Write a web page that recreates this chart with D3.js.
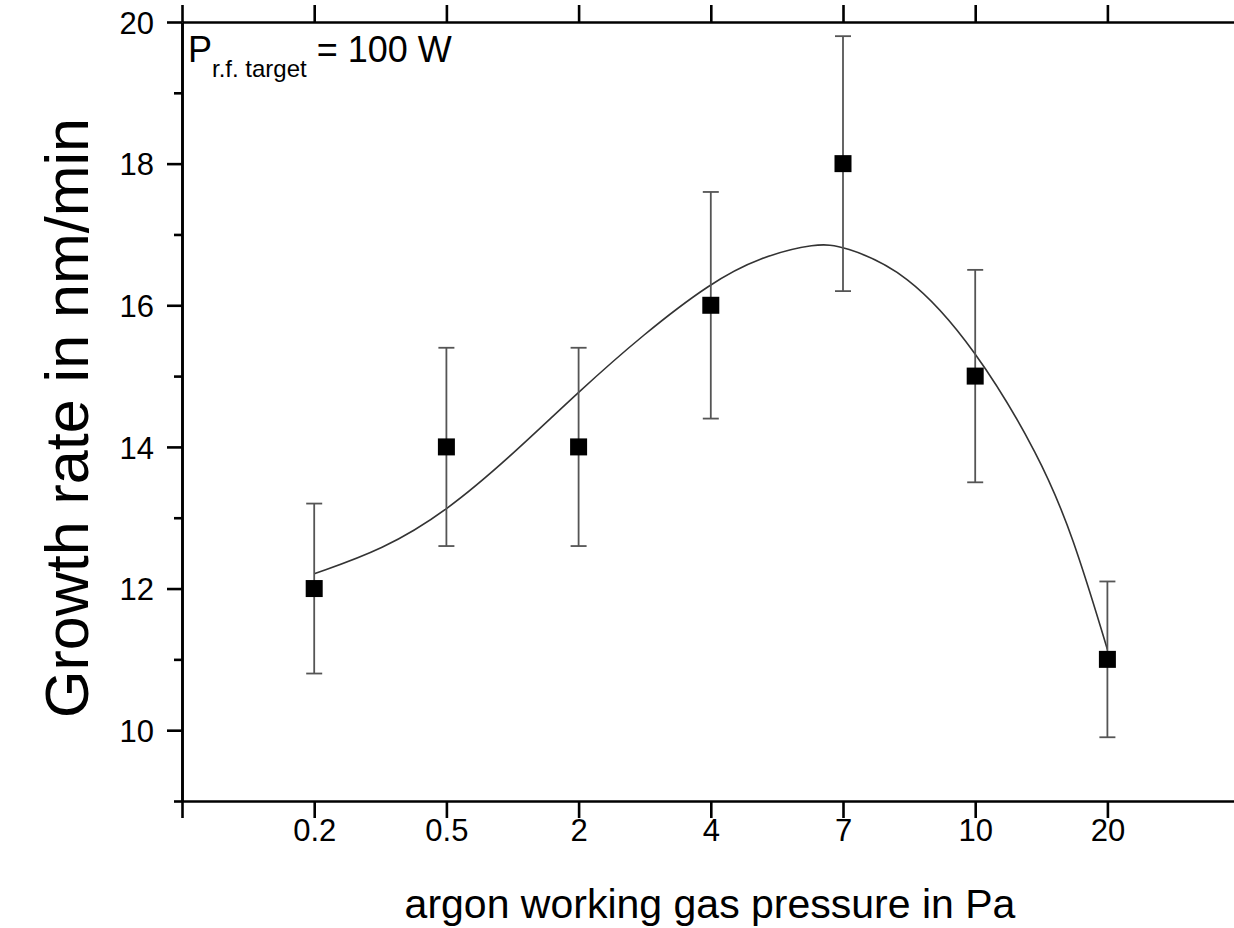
<!DOCTYPE html>
<html lang="en">
<meta charset="utf-8">
<head>
    <script src="https://d3js.org/d3.v7.min.js"></script>
    <style>
        body { margin: 0; background: #fff; }
        text { font-family: "Liberation Sans", Arial, sans-serif; fill: #000; }
    </style>
</head>
<body>
<script>
    // categories on the x axis (evenly spaced, index 1..7)
    var pressures = ["0.2", "0.5", "2", "4", "7", "10", "20"];
    // growth rate in nm/min and error (+/-)
    var rates = [12, 14, 14, 16, 18, 15, 11];
    var errors = [1.2, 1.4, 1.4, 1.6, 1.8, 1.5, 1.1];
    // fit curve: position (category index) and value
    var fitPos = [1.0, 1.52, 2.0, 2.5, 3.0, 3.49, 4.0, 4.37, 4.8, 5.0, 5.48, 6.0, 6.49, 6.74, 7.0];
    var fitVal = [12.21, 12.55, 13.09, 13.89, 14.78, 15.59, 16.32, 16.68, 16.88, 16.84, 16.48, 15.4, 13.86, 12.74, 11.14];
    var yMajor = [10, 12, 14, 16, 18, 20];
    var yMinor = [9, 11, 13, 15, 17, 19];

    var width = 1234, height = 928;

    var svg = d3.select("body")
        .append("svg")
        .attr("width", width)
        .attr("height", height);

    var x = d3.scaleLinear()
        .domain([0, 8])
        .range([182, 1239.6]);

    var y = d3.scaleLinear()
        .domain([9, 20])
        .range([801, 22]);

    var xTicks = d3.range(0, 8);

    // left axis, major ticks with labels
    var left = svg.append("g")
        .attr("transform", "translate(182,0)")
        .call(d3.axisLeft(y).tickValues(yMajor).tickSize(15).tickSizeOuter(0).tickPadding(13));
    // minor ticks
    svg.append("g")
        .attr("transform", "translate(182,0)")
        .call(d3.axisLeft(y).tickValues(yMinor).tickSize(8).tickSizeOuter(0).tickFormat(""));

    // top axis, ticks only
    svg.append("g")
        .attr("transform", "translate(0,22)")
        .call(d3.axisTop(x).tickValues(xTicks).tickSize(17).tickSizeOuter(0).tickFormat(""));

    // bottom axis
    svg.append("g")
        .attr("transform", "translate(0,801)")
        .call(d3.axisBottom(x).tickValues(xTicks).tickSize(17).tickSizeOuter(0).tickPadding(1)
            .tickFormat(function(d) { return d == 0 ? "" : pressures[d - 1]; }));

    svg.selectAll(".domain, .tick line")
        .attr("stroke", "#000")
        .attr("stroke-width", 2.6);
    svg.selectAll(".tick text")
        .attr("font-size", 31)
        .attr("font-family", "Liberation Sans, Arial, sans-serif")
        .attr("fill", "#000");
    left.selectAll(".tick text").attr("dy", "0.36em");

    // fitted curve
    var fit = fitPos.map(function(p, i) { return [p, fitVal[i]]; });
    var line = d3.line()
        .x(function(d) { return x(d[0]); })
        .y(function(d) { return y(d[1]); })
        .curve(d3.curveBasis);
    svg.append("path")
        .datum(fit)
        .attr("d", line)
        .attr("fill", "none")
        .attr("stroke", "#333")
        .attr("stroke-width", 1.6);

    // error bars
    var pts = rates.map(function(r, i) { return {i: i + 1, v: r, e: errors[i]}; });
    var eb = svg.selectAll(".err")
        .data(pts)
        .enter()
        .append("g")
        .attr("class", "err")
        .attr("stroke", "#555")
        .attr("stroke-width", 1.8);
    eb.append("line")
        .attr("x1", function(d) { return x(d.i); })
        .attr("x2", function(d) { return x(d.i); })
        .attr("y1", function(d) { return y(d.v + d.e); })
        .attr("y2", function(d) { return y(d.v - d.e); });
    eb.append("line")
        .attr("x1", function(d) { return x(d.i) - 8; })
        .attr("x2", function(d) { return x(d.i) + 8; })
        .attr("y1", function(d) { return y(d.v + d.e); })
        .attr("y2", function(d) { return y(d.v + d.e); });
    eb.append("line")
        .attr("x1", function(d) { return x(d.i) - 8; })
        .attr("x2", function(d) { return x(d.i) + 8; })
        .attr("y1", function(d) { return y(d.v - d.e); })
        .attr("y2", function(d) { return y(d.v - d.e); });

    // square markers
    svg.selectAll(".pt")
        .data(pts)
        .enter()
        .append("rect")
        .attr("class", "pt")
        .attr("x", function(d) { return x(d.i) - 8.5; })
        .attr("y", function(d) { return y(d.v) - 8.5; })
        .attr("width", 17)
        .attr("height", 17)
        .attr("fill", "#000");

    // annotation
    var note = svg.append("text")
        .attr("x", 188)
        .attr("y", 62)
        .attr("font-size", 36);
    note.append("tspan").text("P");
    note.append("tspan").attr("font-size", 24).attr("dy", 15).text("r.f. target");
    note.append("tspan").attr("dy", -15).text(" = 100 W");

    // axis titles
    svg.append("text")
        .attr("x", 710)
        .attr("y", 918)
        .attr("text-anchor", "middle")
        .attr("font-size", 41)
        .text("argon working gas pressure in Pa");

    svg.append("text")
        .attr("transform", "translate(88,418) rotate(-90)")
        .attr("text-anchor", "middle")
        .attr("font-size", 61)
        .text("Growth rate in nm/min");
</script>
</body>
</html>
